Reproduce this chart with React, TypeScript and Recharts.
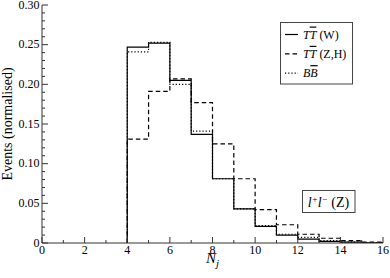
import React from "react";
import { LineChart, Line, XAxis, YAxis } from "recharts";

const binStarts = [4, 5, 6, 7, 8, 9, 10, 11, 12, 13, 14, 15];
const ttW = [0.247, 0.252, 0.205, 0.137, 0.081, 0.043, 0.021, 0.01, 0.005, 0.002, 0.001, 0.0003];
const ttZH = [0.131, 0.191, 0.207, 0.177, 0.125, 0.081, 0.042, 0.023, 0.011, 0.006, 0.003, 0.001];
const bB = [0.241, 0.253, 0.2, 0.141, 0.081, 0.043, 0.022, 0.011, 0.007, 0.003, 0.0012, 0.0005];

const xTicks = [0, 1, 2, 3, 4, 5, 6, 7, 8, 9, 10, 11, 12, 13, 14, 15, 16];
const yTicks = Array.from({ length: 31 }, (_, i) => i / 100);

const rows = [
  { x: 4, w: 0, zh: 0, bb: 0 },
  ...binStarts.map((b, i) => ({ x: b, w: ttW[i], zh: ttZH[i], bb: bB[i] })),
  { x: 16, w: ttW[ttW.length - 1], zh: ttZH[ttZH.length - 1], bb: bB[bB.length - 1] },
];

const FONT = "'Liberation Serif', 'DejaVu Serif', serif";
const AX = "#333";

const XTickBottom = (props: any) => {
  const { x, y, payload } = props;
  const v = payload.value;
  const major = v % 2 === 0;
  return (
    <g>
      <line x1={x} x2={x} y1={y} y2={y - (major ? 6 : 3)} stroke={AX} strokeWidth={1} />
      {major && (
        <text x={x} y={y + 10.5} textAnchor="middle" fontFamily={FONT} fontSize={12} fill="#000">
          {v}
        </text>
      )}
    </g>
  );
};

const XTickTop = (props: any) => {
  const { x, y, payload } = props;
  const v = payload.value;
  const major = v % 2 === 0;
  return <line x1={x} x2={x} y1={y} y2={y + (major ? 6 : 3)} stroke={AX} strokeWidth={1} />;
};

const isMajorY = (v: number) => Math.round(v * 100) % 5 === 0;

const YTickLeft = (props: any) => {
  const { x, y, payload } = props;
  const v = payload.value;
  const major = isMajorY(v);
  return (
    <g>
      <line x1={x} x2={x + (major ? 6 : 3)} y1={y} y2={y} stroke={AX} strokeWidth={1} />
      {major && (
        <text x={x - 2.5} y={y + 3.8} textAnchor="end" fontFamily={FONT} fontSize={12} fill="#000">
          {v === 0 ? "0" : v.toFixed(2)}
        </text>
      )}
    </g>
  );
};

const YTickRight = (props: any) => {
  const { x, y, payload } = props;
  const v = payload.value;
  const major = isMajorY(v);
  return <line x1={x} x2={x - (major ? 6 : 3)} y1={y} y2={y} stroke={AX} strokeWidth={1} />;
};

const XLabel = (props: any) => {
  const vb = props.viewBox;
  return (
    <text x={vb.x + vb.width / 2} y={vb.y + 20} textAnchor="middle" fontFamily={FONT} fontSize={15} fontStyle="italic" fill="#000">
      N
      <tspan fontSize={11} dy={4}>j</tspan>
    </text>
  );
};

const YLabel = (props: any) => {
  const vb = props.viewBox;
  const cx = 12;
  const cy = vb.y + vb.height / 2;
  return (
    <text x={cx} y={cy} textAnchor="middle" fontFamily={FONT} fontSize={14} fill="#000" transform={`rotate(-90 ${cx} ${cy})`}>
      Events (normalised)
    </text>
  );
};

const legendItems = [
  { a: "T", b: "T", rest: " (W)", dash: undefined as string | undefined },
  { a: "T", b: "T", rest: " (Z,H)", dash: "4.5 3" },
  { a: "B", b: "B", rest: "", dash: "1.2 2" },
];

export default function App() {
  return (
    <div style={{ position: "absolute", left: 0, top: 0, width: 390, height: 278 }}>
      <LineChart width={390} height={278} data={rows} margin={{ top: 5, right: 7, bottom: 0, left: 0 }}>
        <XAxis
          dataKey="x"
          type="number"
          domain={[0, 16]}
          ticks={xTicks}
          interval={0}
          allowDataOverflow
          height={35}
          tickSize={0}
          tickMargin={0}
          tickLine={false}
          axisLine={{ stroke: AX, strokeWidth: 1 }}
          tick={<XTickBottom />}
          label={<XLabel />}
        />
        <XAxis
          xAxisId="top"
          orientation="top"
          dataKey="x"
          type="number"
          domain={[0, 16]}
          ticks={xTicks}
          interval={0}
          allowDataOverflow
          height={0}
          tickSize={0}
          tickMargin={0}
          tickLine={false}
          axisLine={{ stroke: AX, strokeWidth: 1 }}
          tick={<XTickTop />}
        />
        <YAxis
          type="number"
          domain={[0, 0.3]}
          ticks={yTicks}
          interval={0}
          allowDataOverflow
          width={42}
          tickSize={0}
          tickMargin={0}
          tickLine={false}
          axisLine={{ stroke: AX, strokeWidth: 1 }}
          tick={<YTickLeft />}
          label={<YLabel />}
        />
        <YAxis
          yAxisId="right"
          orientation="right"
          type="number"
          domain={[0, 0.3]}
          ticks={yTicks}
          interval={0}
          allowDataOverflow
          width={0}
          tickSize={0}
          tickMargin={0}
          tickLine={false}
          axisLine={{ stroke: AX, strokeWidth: 1 }}
          tick={<YTickRight />}
        />
        <Line type="stepAfter" dataKey="zh" stroke="#000" strokeWidth={1.2} strokeDasharray="4.5 3" dot={false} isAnimationActive={false} />
        <Line type="stepAfter" dataKey="bb" stroke="#000" strokeWidth={1.2} strokeDasharray="1.2 2" dot={false} isAnimationActive={false} />
        <Line type="stepAfter" dataKey="w" stroke="#000" strokeWidth={1.2} dot={false} isAnimationActive={false} />
      </LineChart>
      <svg width={390} height={278} style={{ position: "absolute", left: 0, top: 0, pointerEvents: "none" }}>
        <rect x={280.5} y={22.5} width={72} height={61.5} fill="#fff" stroke="#444" strokeWidth={1} />
        {legendItems.map((it, i) => {
          const ly = 34.5 + i * 19.3;
          return (
            <g key={i}>
              <line x1={285} x2={298} y1={ly} y2={ly} stroke="#000" strokeWidth={1.2} strokeDasharray={it.dash} />
              <text x={303} y={ly + 4} fontFamily={FONT} fontSize={12} fill="#000">
                <tspan fontStyle="italic">{it.a}</tspan>
                <tspan fontStyle="italic" style={{ textDecoration: "overline" }}>{it.b}</tspan>
                <tspan>{it.rest}</tspan>
              </text>
            </g>
          );
        })}
        <rect x={302.5} y={190.5} width={52.5} height={22} fill="#fff" stroke="#444" strokeWidth={1} />
        <text x={328.5} y={207} textAnchor="middle" fontFamily={FONT} fontSize={14} fontStyle="italic" fill="#000">
          l<tspan fontSize={9} dy={-5}>+</tspan>
          <tspan dy={5}>l</tspan>
          <tspan fontSize={9} dy={-5}>−</tspan>
          <tspan dy={5} fontStyle="normal"> (Z)</tspan>
        </text>
      </svg>
    </div>
  );
}
